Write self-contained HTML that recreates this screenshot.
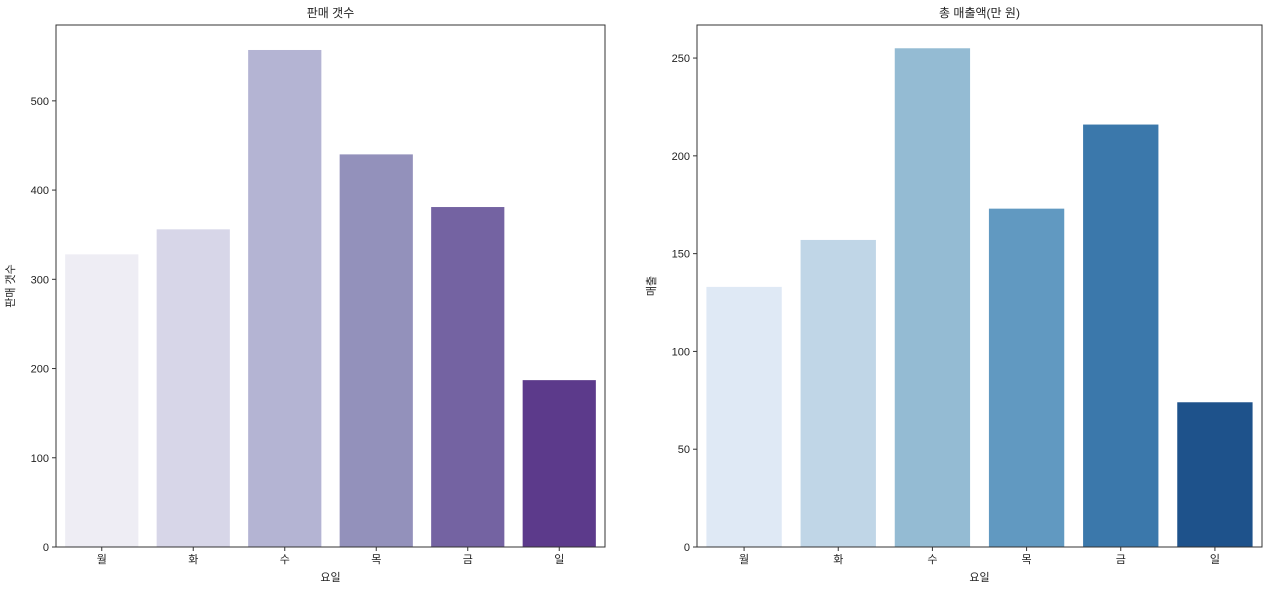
<!DOCTYPE html>
<html><head><meta charset="utf-8">
<style>
body{margin:0;background:#fff;}
svg text{font-family:"Liberation Sans","Noto Sans CJK KR",sans-serif;fill:#222;}
</style></head>
<body>
<svg id="c" width="1274" height="588" xmlns="http://www.w3.org/2000/svg"></svg>
<script>
const categories=["월","화","수","목","금","일"];
const salesCount=[328,356,557,440,381,187];
const salesAmount=[133,157,255,173,216,74];
const leftTicks=[0,100,200,300,400,500];
const rightTicks=[0,50,100,150,200,250];
const purples=["#eeedf4","#d7d6e8","#b4b4d3","#9391bb","#7463a2","#5c3a8b"];
const blues=["#dfe9f5","#c0d6e7","#94bbd3","#6199c1","#3b78ab","#1e528b"];
const svg=document.getElementById('c');
const NS="http://www.w3.org/2000/svg";
function mk(t,a,p){const e=document.createElementNS(NS,t);for(const k in a)e.setAttribute(k,a[k]);(p||svg).appendChild(e);return e;}
function panel(name,x0,x1,y0,y1,vmax,vals,ticks,cols,title,ylabel){
  const g=mk('g',{});
  
  
  const ys=v=>y1-(y1-y0)*v/vmax;
  const bw=(x1-x0)/categories.length;
  const xs=i=>x0+bw*i;
  vals.forEach((v,i)=>{
    const r=mk('rect',{x:xs(i)+bw*0.1,y:ys(v),width:bw*0.8,height:y1-ys(v),fill:cols[i]},g);
    
    
    const t=mk('text',{x:xs(i)+bw/2,y:y1+16,'font-size':11,'text-anchor':'middle'},g);
    t.textContent=categories[i];
    
    
    mk('line',{x1:xs(i)+bw/2,x2:xs(i)+bw/2,y1:y1,y2:y1+4,stroke:'#333'},g);
  });
  ticks.forEach(tv=>{
    mk('line',{x1:x0-4,x2:x0,y1:ys(tv),y2:ys(tv),stroke:'#333'},g);
    const t=mk('text',{x:x0-7,y:ys(tv)+4,'font-size':11,'text-anchor':'end'},g);
    t.textContent=tv;
    
    
  });
  const f=mk('rect',{x:x0,y:y0,width:x1-x0,height:y1-y0,fill:'none',stroke:'#333','stroke-width':1},g);
  
  
  const tt=mk('text',{x:(x0+x1)/2,y:y0-8,'font-size':12,'text-anchor':'middle'},g);
  tt.textContent=title;
  
  
  const xl=mk('text',{x:(x0+x1)/2,y:y1+34,'font-size':11,'text-anchor':'middle'},g);
  xl.textContent='요일';
  
  
  const lx=x0-42,ly=(y0+y1)/2;
  const yl=mk('text',{x:lx,y:ly,'font-size':11,'text-anchor':'middle',transform:`rotate(-90 ${lx} ${ly})`},g);
  yl.textContent=ylabel;
  
  
}
panel('left-chart',56,605,25,547,585,salesCount,leftTicks,purples,'판매 갯수','판매 갯수');
panel('right-chart',697,1262,25,547,266.9,salesAmount,rightTicks,blues,'총 매출액(만 원)','매출');
</script>
</body></html>
